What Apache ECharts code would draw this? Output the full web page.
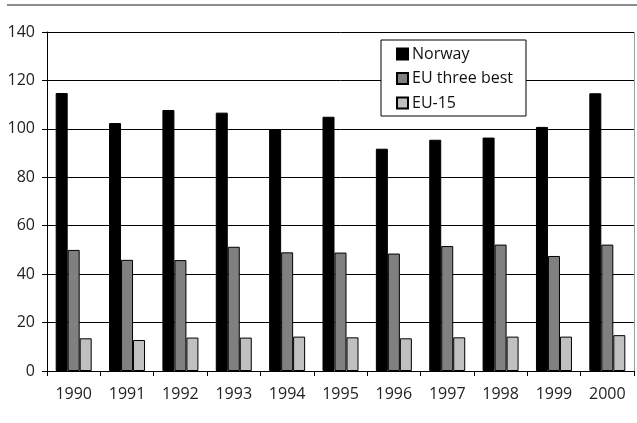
<!DOCTYPE html>
<html>
<head>
<meta charset="utf-8">
<script src="https://cdn.jsdelivr.net/npm/echarts@6/dist/echarts.min.js"></script>
<style>
  html, body { margin: 0; padding: 0; background: #fff; }
  #chart { width: 637px; height: 423px; }
</style>
</head>
<body>
<div id="chart"></div>
<script>
var years = ['1990', '1991', '1992', '1993', '1994', '1995', '1996', '1997', '1998', '1999', '2000'];
var norway = [114.8, 102.4, 107.8, 106.7, 99.8, 105, 91.8, 95.5, 96.4, 100.8, 114.7];
var euThreeBest = [50, 45.9, 45.8, 51.3, 49, 48.9, 48.5, 51.6, 52.2, 47.5, 52.2];
var eu15 = [13.5, 12.8, 13.8, 13.8, 14.2, 13.9, 13.5, 13.9, 14.2, 14.2, 14.8];
var yTicks = [0, 20, 40, 60, 80, 100, 120, 140];

var font = '"Open Sans", "DejaVu Sans", sans-serif';
var barBorder = { borderColor: '#000', borderWidth: 1 };

function barSeries(name, data, color) {
    return {
        name: name,
        type: 'bar',
        data: data,
        barWidth: 12,
        barGap: '0%',
        itemStyle: { color: color, borderColor: barBorder.borderColor, borderWidth: barBorder.borderWidth }
    };
}

var option = {
    animation: false,
    backgroundColor: '#fff',
    textStyle: { fontFamily: font },
    graphic: [
        { type: 'line', shape: { x1: 7, y1: 5, x2: 637, y2: 5 }, style: { stroke: '#8c8c8c', lineWidth: 2 } },
        { type: 'line', shape: { x1: 634.5, y1: 32, x2: 634.5, y2: 371 }, style: { stroke: '#a0a0a0', lineWidth: 1 } }
    ],
    grid: { left: 47, right: 3, top: 32, bottom: 52 },
    legend: {
        orient: 'vertical',
        left: 381,
        top: 40,
        icon: 'rect',
        itemWidth: 11,
        itemHeight: 11,
        itemGap: 6.5,
        padding: [5, 13, 4, 15],
        borderColor: '#000',
        borderWidth: 1,
        backgroundColor: '#fff',
        textStyle: { fontFamily: font, fontSize: 16, color: '#111', lineHeight: 18, padding: [0, 0, 0, -1] },
        data: ['Norway', 'EU three best', 'EU-15']
    },
    xAxis: {
        type: 'category',
        data: years,
        boundaryGap: true,
        axisLine: { lineStyle: { color: '#000', width: 1 } },
        axisTick: { show: true, length: 5, alignWithLabel: false, lineStyle: { color: '#000' } },
        axisLabel: { fontFamily: font, fontSize: 16, color: '#222', margin: 15 }
    },
    yAxis: {
        type: 'value',
        min: yTicks[0],
        max: yTicks[yTicks.length - 1],
        interval: yTicks[1] - yTicks[0],
        axisLine: { show: true, lineStyle: { color: '#000', width: 1 } },
        axisTick: { show: true, length: 5, lineStyle: { color: '#000' } },
        axisLabel: { fontFamily: font, fontSize: 16, color: '#222', margin: 12 },
        splitLine: { show: true, lineStyle: { color: '#000', width: 1 } }
    },
    series: [
        barSeries('Norway', norway, '#000000'),
        barSeries('EU three best', euThreeBest, '#808080'),
        barSeries('EU-15', eu15, '#c0c0c0')
    ]
};

var myChart = echarts.init(document.getElementById('chart'));
myChart.setOption(option);
</script>
</body>
</html>
